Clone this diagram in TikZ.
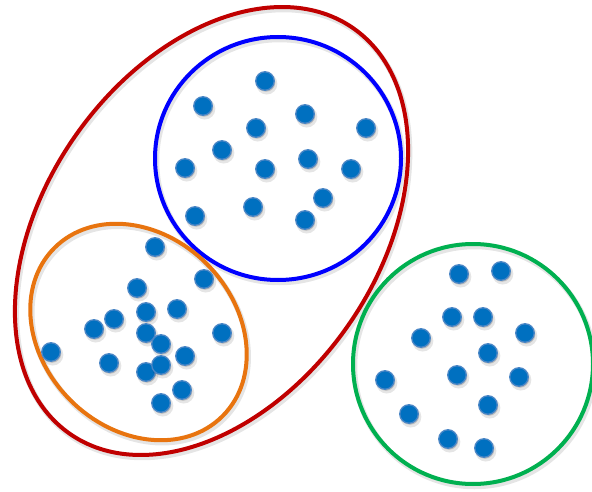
\documentclass[tikz,border=0pt]{standalone}
\usetikzlibrary{shadows}
\definecolor{ringred}{HTML}{C00000}
\definecolor{ringblue}{HTML}{0000FF}
\definecolor{ringorange}{HTML}{E8740F}
\definecolor{ringgreen}{HTML}{00B050}
\definecolor{dotfill}{HTML}{0070C0}
\definecolor{dotedge}{HTML}{4A86C6}
\tikzset{
  ring/.style={line width=4pt},
  ringshadow/.style={line width=5.5pt, draw=black, opacity=0.10},
  dot/.style={circle, minimum size=18.5pt, inner sep=0pt, fill=dotfill, draw=dotedge, line width=1.3pt,
    general shadow={fill=black, opacity=0.10, shadow xshift=1.5pt, shadow yshift=-2.5pt, shadow scale=1.15},
    general shadow={fill=black, opacity=0.18, shadow xshift=1pt, shadow yshift=-1.5pt}}
}
\begin{document}
\begin{tikzpicture}[x=1pt,y=-1pt]
\useasboundingbox (0,0) rectangle (592,492);
\fill[white] (0,0) rectangle (592,492);
% ring shadows
\begin{scope}[shift={(1.5,2.5)}]
\draw[ringshadow, rotate around={55:(211.5,231)}] (211.5,231) ellipse [x radius=247.4pt, y radius=166.1pt];
\draw[ringshadow] (278,158.5) ellipse [x radius=123pt, y radius=121.5pt];
\draw[ringshadow, rotate around={-45:(138.5,332)}] (138.5,332) ellipse [x radius=118.9pt, y radius=96.4pt];
\draw[ringshadow] (473,364) circle [radius=120pt];
\end{scope}
% rings
\draw[ring, ringred, rotate around={55:(211.5,231)}] (211.5,231) ellipse [x radius=247.4pt, y radius=166.1pt];
\draw[ring, ringblue] (278,158.5) ellipse [x radius=123pt, y radius=121.5pt];
\draw[ring, ringorange, rotate around={-45:(138.5,332)}] (138.5,332) ellipse [x radius=118.9pt, y radius=96.4pt];
\draw[ring, ringgreen] (473,364) circle [radius=120pt];
% blue cluster dots
\foreach [count=\i] \p in {(265,81),(203,106),(305,114),(256,128),(366,128),(222,150),(185,168),(265,169),(308,159),(351,169),(323,198),(253,207),(195,216),(305,220)}
  \node[dot] (b\i) at \p {};
% orange cluster dots
\foreach [count=\i] \p in {(155,247),(204,279),(137,288),(146,312),(177,309),(114,319),(94,329),(146,333),(222,333),(161,344),(51,352),(109,363),(185,356),(146,372),(161,365),(182,390),(161,403)}
  \node[dot] (o\i) at \p {};
% green cluster dots
\foreach [count=\i] \p in {(459,274),(501,271),(452,317),(483,317),(421,338),(525,333),(488,353),(457,375),(519,377),(385,380),(488,405),(409,414),(448,439),(484,448)}
  \node[dot] (g\i) at \p {};
\end{tikzpicture}
\end{document}
